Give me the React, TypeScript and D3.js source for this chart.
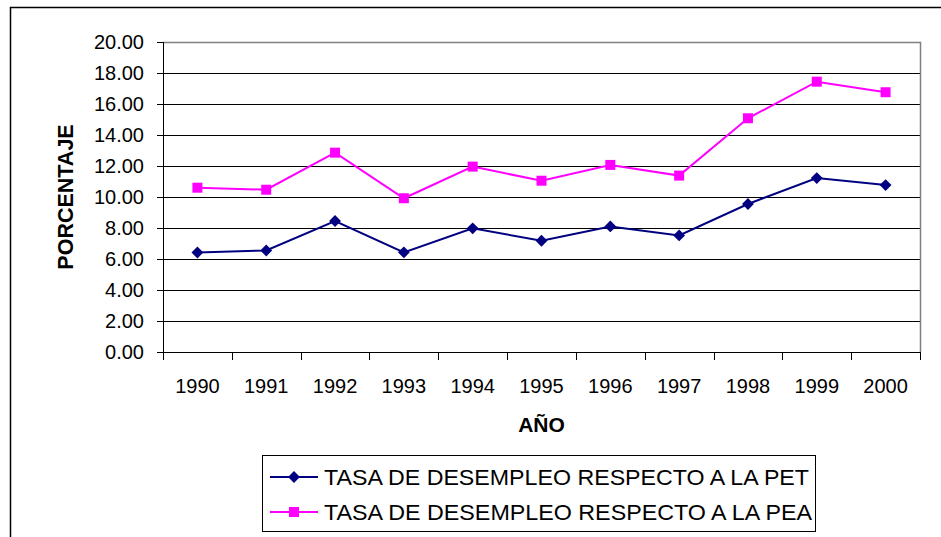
import { useEffect, useRef } from 'react';
import * as d3 from 'd3';

const years = ['1990', '1991', '1992', '1993', '1994', '1995', '1996', '1997', '1998', '1999', '2000'];
const petValues = [6.42, 6.55, 8.45, 6.43, 7.98, 7.18, 8.1, 7.52, 9.55, 11.22, 10.77];
const peaValues = [10.6, 10.47, 12.86, 9.92, 11.96, 11.05, 12.07, 11.38, 15.08, 17.44, 16.76];
const yTicks = [0, 2, 4, 6, 8, 10, 12, 14, 16, 18, 20];
const seriesNames = ['TASA DE DESEMPLEO RESPECTO A LA PET', 'TASA DE DESEMPLEO RESPECTO A LA PEA'];
const colors = ['#000080', '#FF00FF'];

const W = 941;
const H = 537;
const FONT = '"Liberation Sans", Arial, sans-serif';

function LineChart() {
  const svgRef = useRef<SVGSVGElement>(null);

  useEffect(() => {
    const root = d3.select(svgRef.current);
    root.selectAll('*').remove();

    const left = 163;
    const right = 920;
    const top = 42;
    const bottom = 352;

    const x = d3.scaleBand().domain(years).range([left, right]);
    const y = d3.scaleLinear().domain([0, 20]).range([bottom, top]);

    // outer chart frame
    root
      .append('rect')
      .attr('x', 10.5)
      .attr('y', 7.5)
      .attr('width', W)
      .attr('height', H)
      .attr('fill', '#fff')
      .attr('stroke', '#000')
      .attr('stroke-width', 1.5);

    // gridlines
    root
      .append('g')
      .selectAll('line')
      .data(yTicks.filter(t => t > 0 && t < 20))
      .enter()
      .append('line')
      .attr('x1', left)
      .attr('x2', right)
      .attr('y1', d => Math.round(y(d)) + 0.5)
      .attr('y2', d => Math.round(y(d)) + 0.5)
      .attr('stroke', '#000')
      .attr('stroke-width', 1);

    // plot border (top + right, grey)
    root
      .append('path')
      .attr('d', `M${left},${top + 0.5}H${right + 0.5}V${bottom}`)
      .attr('fill', 'none')
      .attr('stroke', '#808080')
      .attr('stroke-width', 1.5);

    // y axis
    const yAxis = root.append('g').attr('font-family', FONT).attr('font-size', 20);
    yAxis
      .append('line')
      .attr('x1', left + 0.5)
      .attr('x2', left + 0.5)
      .attr('y1', top)
      .attr('y2', bottom + 1)
      .attr('stroke', '#000');
    const yt = yAxis.selectAll('g.tick').data(yTicks).enter().append('g').attr('class', 'tick');
    yt.append('line')
      .attr('x1', left - 6)
      .attr('x2', left)
      .attr('y1', d => Math.round(y(d)) + 0.5)
      .attr('y2', d => Math.round(y(d)) + 0.5)
      .attr('stroke', '#000');
    yt.append('text')
      .attr('x', 144)
      .attr('y', d => y(d) + 7)
      .attr('text-anchor', 'end')
      .attr('fill', '#000')
      .text(d => d3.format('.2f')(d));

    // x axis
    const xAxis = root.append('g').attr('font-family', FONT).attr('font-size', 20);
    xAxis
      .append('line')
      .attr('x1', left)
      .attr('x2', right + 1)
      .attr('y1', bottom + 0.5)
      .attr('y2', bottom + 0.5)
      .attr('stroke', '#000');
    const bounds = years.map(d => x(d) as number).concat([right]);
    xAxis
      .selectAll('line.tk')
      .data(bounds)
      .enter()
      .append('line')
      .attr('class', 'tk')
      .attr('x1', d => Math.round(d) + 0.5)
      .attr('x2', d => Math.round(d) + 0.5)
      .attr('y1', bottom)
      .attr('y2', bottom + 8)
      .attr('stroke', '#000');
    xAxis
      .selectAll('text')
      .data(years)
      .enter()
      .append('text')
      .attr('x', d => (x(d) as number) + x.bandwidth() / 2)
      .attr('y', 393)
      .attr('text-anchor', 'middle')
      .text(d => d);

    // axis titles
    root
      .append('text')
      .attr('x', (left + right) / 2)
      .attr('y', 432)
      .attr('text-anchor', 'middle')
      .attr('font-family', FONT)
      .attr('font-weight', 'bold')
      .attr('font-size', 21)
      .text('AÑO');
    root
      .append('text')
      .attr('transform', `translate(73, ${(top + bottom) / 2}) rotate(-90)`)
      .attr('text-anchor', 'middle')
      .attr('font-family', FONT)
      .attr('font-weight', 'bold')
      .attr('font-size', 21.5)
      .text('PORCENTAJE');

    const cx = (i: number) => (x(years[i]) as number) + x.bandwidth() / 2;
    const line = d3
      .line<number>()
      .x((_, i) => cx(i))
      .y(d => y(d));

    const diamond = d3.symbol().type(d3.symbolSquare).size(70);
    const square = d3.symbol().type(d3.symbolSquare).size(100);

    [petValues, peaValues].forEach((vals, si) => {
      root
        .append('path')
        .datum(vals)
        .attr('d', line)
        .attr('fill', 'none')
        .attr('stroke', colors[si])
        .attr('stroke-width', 2);
      root
        .append('g')
        .selectAll('path')
        .data(vals)
        .enter()
        .append('path')
        .attr('d', si === 0 ? diamond() : square())
        .attr('transform', (d, i) => `translate(${cx(i)},${y(d)})${si === 0 ? ' rotate(45)' : ''}`)
        .attr('fill', colors[si]);
    });

    // legend
    const legend = root.append('g');
    legend
      .append('rect')
      .attr('x', 262.5)
      .attr('y', 455.5)
      .attr('width', 553)
      .attr('height', 76)
      .attr('fill', '#fff')
      .attr('stroke', '#000')
      .attr('stroke-width', 1);
    const rows = legend
      .selectAll('g.row')
      .data(seriesNames)
      .enter()
      .append('g')
      .attr('class', 'row')
      .attr('transform', (_, i) => `translate(0, ${477 + i * 35})`);
    rows
      .append('line')
      .attr('x1', 270)
      .attr('x2', 318)
      .attr('stroke', (_, i) => colors[i])
      .attr('stroke-width', 2);
    rows
      .append('path')
      .attr('d', (_, i) => (i === 0 ? diamond() : square()))
      .attr('transform', (_, i) => `translate(294,0)${i === 0 ? ' rotate(45)' : ''}`)
      .attr('fill', (_, i) => colors[i]);
    rows
      .append('text')
      .attr('x', 324)
      .attr('y', 8)
      .attr('font-family', FONT)
      .attr('font-size', 22)
      .attr('textLength', (_, i) => (i === 0 ? 485 : 488))
      .attr('lengthAdjust', 'spacingAndGlyphs')
      .text(d => d);
  }, []);

  return (
    <svg
      ref={svgRef}
      width={W}
      height={H}
      style={{ position: 'absolute', left: 0, top: 0, background: '#fff' }}
    />
  );
}

export default function App() {
  return <LineChart />;
}
